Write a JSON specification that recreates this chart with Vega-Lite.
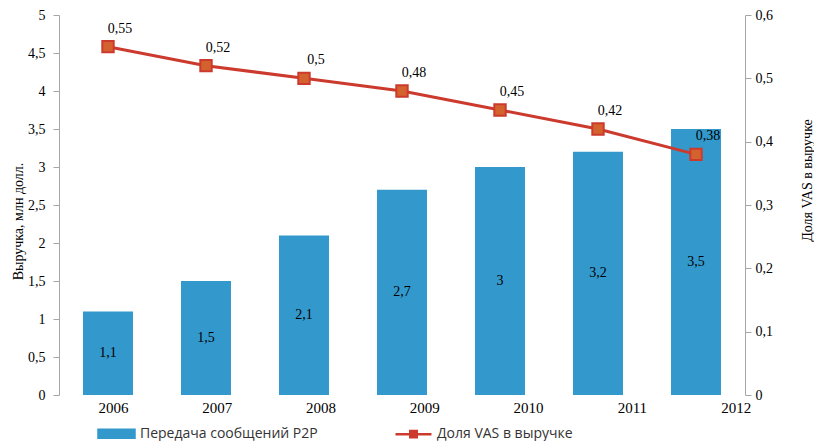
{
  "$schema": "https://vega.github.io/schema/vega-lite/v6.json",
  "width": 686,
  "height": 380,
  "autosize": {"type": "none"},
  "padding": {"left": 59, "top": 15, "right": 69, "bottom": 46},
  "config": {
    "view": {"stroke": null},
    "font": "Liberation Serif",
    "locale": {"number": {"decimal": ",", "thousands": "\u00a0", "grouping": [3], "currency": ["", " руб."]}}
  },
  "data": {
    "values": [
      {"year": 2006, "rev": 1.1, "share": 0.55},
      {"year": 2007, "rev": 1.5, "share": 0.52},
      {"year": 2008, "rev": 2.1, "share": 0.5},
      {"year": 2009, "rev": 2.7, "share": 0.48},
      {"year": 2010, "rev": 3.0, "share": 0.45},
      {"year": 2011, "rev": 3.2, "share": 0.42},
      {"year": 2012, "rev": 3.5, "share": 0.38}
    ]
  },
  "layer": [
    {
      "encoding": {
        "x": {"field": "year", "type": "ordinal", "scale": {"paddingInner": 0.49, "paddingOuter": 0.245}, "axis": null}
      },
      "layer": [
        {
          "encoding": {
            "y": {
              "field": "rev", "type": "quantitative",
              "scale": {"domain": [0, 5], "nice": false},
              "axis": {
                "orient": "left", "values": [0, 0.5, 1, 1.5, 2, 2.5, 3, 3.5, 4, 4.5, 5], "format": "~g",
                "grid": false, "domainColor": "#a6a6a6", "tickColor": "#a6a6a6", "tickSize": 6,
                "labelFont": "Liberation Serif", "labelFontSize": 14, "labelColor": "#000", "labelPadding": 8,
                "title": "Выручка, млн долл.", "titleFont": "Liberation Serif", "titleFontSize": 14,
                "titleFontWeight": "normal", "titleFontStyle": "normal", "titleColor": "#000", "titleAngle": -90,
                "titleX": -41, "titleY": 206, "titleAlign": "center", "titleBaseline": "middle"
              }
            }
          },
          "layer": [
            {
              "mark": {"type": "bar"},
              "encoding": {
                "color": {
                  "datum": "Передача сообщений P2P", "type": "nominal",
                  "scale": {"domain": ["Передача сообщений P2P", "Доля VAS в выручке"], "range": ["#3399cc", "#cc3a2e"]},
                  "legend": {
                    "orient": "none", "legendX": 38, "legendY": 399, "direction": "horizontal", "title": null,
                    "labelFont": "Open Sans", "labelFontSize": 14, "labelColor": "#333", "labelLimit": 400,
                    "symbolSize": 1296, "columnPadding": 72, "labelOffset": 4,
                    "encode": {
                      "symbols": {
                        "update": {
                          "shape": {"signal": "datum.value === 'Доля VAS в выручке' ? 'M-1,0H1M-0.18,-0.18H0.18V0.18H-0.18Z' : 'M-1,-0.22H1V0.22H-1Z'"},
                          "fill": {"signal": "datum.value === 'Доля VAS в выручке' ? '#d4622e' : '#3399cc'"},
                          "stroke": {"signal": "datum.value === 'Доля VAS в выручке' ? '#cc3a2e' : 'transparent'"},
                          "strokeWidth": {"value": 2.5},
                          "opacity": {"value": 1},
                          "fillOpacity": {"value": 1}
                        }
                      }
                    }
                  }
                }
              }
            },
            {
              "transform": [{"calculate": "datum.rev / 2", "as": "mid"}],
              "mark": {"type": "text", "font": "Liberation Serif", "fontSize": 14, "color": "#000"},
              "encoding": {
                "y": {"field": "mid", "type": "quantitative"},
                "text": {"field": "rev", "type": "quantitative", "format": "~g"}
              }
            }
          ]
        },
        {
          "encoding": {
            "y": {
              "field": "share", "type": "quantitative",
              "scale": {"domain": [0, 0.6], "nice": false},
              "axis": {
                "orient": "right", "values": [0, 0.1, 0.2, 0.3, 0.4, 0.5, 0.6], "format": "~g",
                "grid": false, "domainColor": "#a6a6a6", "tickColor": "#a6a6a6", "tickSize": 6,
                "labelFont": "Liberation Serif", "labelFontSize": 14, "labelColor": "#000", "labelPadding": 4,
                "title": "Доля VAS в выручке", "titleFont": "Liberation Serif", "titleFontSize": 14,
                "titleFontWeight": "normal", "titleFontStyle": "normal", "titleColor": "#000", "titleAngle": -90,
                "titleX": 62, "titleY": 165, "titleAlign": "center", "titleBaseline": "middle"
              }
            }
          },
          "layer": [
            {
              "mark": {"type": "line", "strokeWidth": 3},
              "encoding": {"color": {"datum": "Доля VAS в выручке", "type": "nominal"}}
            },
            {
              "mark": {"type": "point", "shape": "square", "filled": true, "fill": "#d4622e", "stroke": "#cc3a2e", "strokeWidth": 2, "size": 130, "opacity": 1},
              "encoding": {}
            },
            {
              "mark": {"type": "text", "dx": 12, "dy": -18, "font": "Liberation Serif", "fontSize": 14, "color": "#000"},
              "encoding": {"text": {"field": "share", "type": "quantitative", "format": "~g"}}
            }
          ]
        }
      ],
      "resolve": {"scale": {"y": "independent"}}
    },
    {
      "mark": {"type": "rule", "opacity": 0},
      "encoding": {
        "x": {
          "field": "year", "type": "quantitative",
          "scale": {"domain": [2005.48, 2012.09], "nice": false, "zero": false},
          "axis": {
            "orient": "bottom", "values": [2006, 2007, 2008, 2009, 2010, 2011, 2012], "format": "d",
            "ticks": false, "domain": false, "grid": false, "labelPadding": 5,
            "labelFont": "Liberation Serif", "labelFontSize": 15, "labelColor": "#000", "title": null
          }
        }
      }
    }
  ],
  "resolve": {"scale": {"x": "independent"}}
}
